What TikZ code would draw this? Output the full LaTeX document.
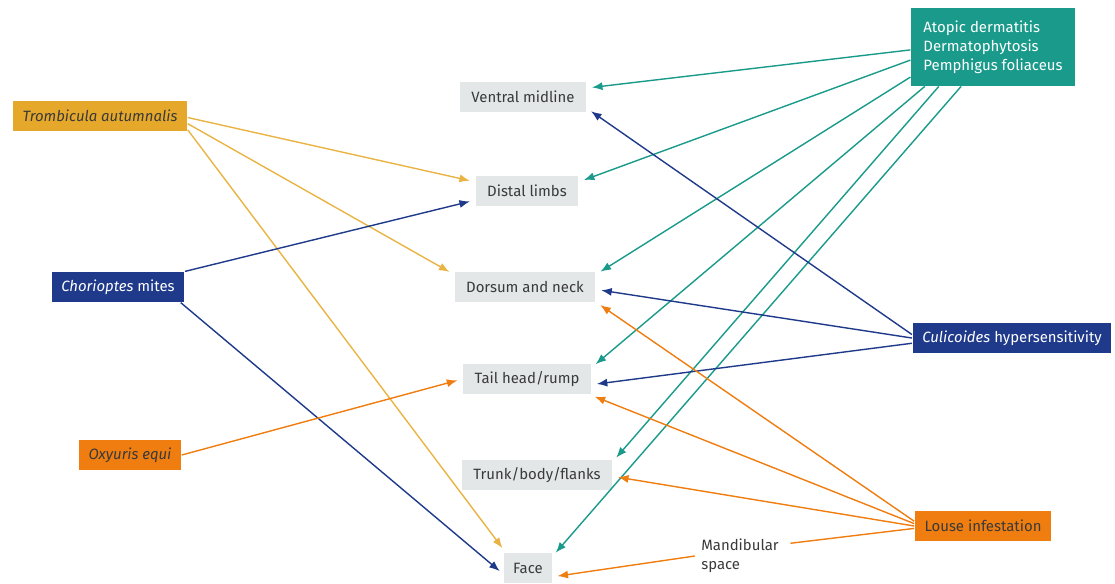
\documentclass[tikz,border=0pt]{standalone}
\usepackage{fontspec}
\setmainfont{Fira Sans}
\usetikzlibrary{arrows.meta}

\definecolor{goldc}{HTML}{E6A82A}
\definecolor{goldl}{HTML}{E9B444}
\definecolor{bluec}{HTML}{1F3A8A}
\definecolor{tealc}{HTML}{1A9A8A}
\definecolor{orangec}{HTML}{EF7D10}
\definecolor{siteb}{HTML}{E3E7E7}
\definecolor{darktext}{HTML}{3A3A3A}

\tikzset{
  site/.style={fill=siteb, text=darktext, minimum height=17pt, inner xsep=6.5pt},
  cause/.style={minimum height=17pt, inner xsep=5.5pt},
}

\begin{document}
\begin{tikzpicture}[x=0.02cm, y=-0.02cm, >={Latex[length=6pt,width=4.6pt]},
  line width=0.8pt, font=\fontsize{8.5}{10.8}\selectfont]
\useasboundingbox (0,0) rectangle (1115,583);

% ----- Body sites -----
\node[site] (ventral) at (523,97)  {Ventral midline};
\node[site] (distal)  at (527,191) {Distal limbs};
\node[site] (dorsum)  at (525,287) {Dorsum and neck};
\node[site] (tail)    at (527,379) {Tail head/rump};
\node[site] (trunk)   at (537,475) {Trunk/body/flanks};
\node[site, inner xsep=5pt] (face) at (528,568) {Face};
\node[text=darktext, align=left] (mand) at (740,556) {Mandibular\\space};

% ----- Causes, left -----
\node[cause, fill=goldc, text=darktext] (tromb) at (100,116) {\itshape Trombicula autumnalis};
\node[cause, fill=bluec, text=white]    (chor)  at (118,287) {\textit{Chorioptes} mites};
\node[cause, fill=orangec, text=darktext] (oxy) at (130,455) {\itshape Oxyuris equi};

% ----- Causes, right -----
\node[cause, fill=tealc, text=white, align=left, inner sep=7pt,
  minimum width=163*0.02cm, minimum height=77*0.02cm] (atopic) at (993,47)
  {Atopic dermatitis\\Dermatophytosis\\Pemphigus foliaceus};
\node[cause, fill=bluec, text=white] (culi) at (1012,338) {\textit{Culicoides} hypersensitivity};
\node[cause, fill=orangec, text=darktext] (louse) at (983,526) {Louse infestation};

% ----- Trombicula -----
\begin{scope}[goldl, shorten >=3pt]
\draw[->] (tromb.-1) -- (distal.170);
\draw[->] (tromb.-5) -- (dorsum.170);
\draw[->] (tromb.-9) -- (face.145);
\end{scope}

% ----- Chorioptes -----
\begin{scope}[bluec, shorten >=3pt]
\draw[->] (chor.north east) -- (distal.190);
\draw[->] (chor.-14) -- (face.195);
\end{scope}

% ----- Oxyuris -----
\draw[orangec, ->, shorten >=3pt] (oxy.east) -- (tail.west);

% ----- Atopic dermatitis etc. -----
\begin{scope}[tealc, shorten >=3pt]
\draw[->] (atopic.182) -- (ventral.8);
\draw[->] (atopic.189) -- (distal.10);
\draw[->] (atopic.200) -- (dorsum.10);
\draw[->] (atopic.210) -- (tail.10);
\draw[->] (atopic.216) -- (trunk.10);
\draw[->] (atopic.231) -- (face.25);
\end{scope}

% ----- Culicoides -----
\begin{scope}[bluec, shorten >=3pt]
\draw[->] (culi.178) -- (ventral.-10);
\draw[->] (culi.180) -- (dorsum.-2);
\draw[->] (culi.183) -- (tail.-5);
\end{scope}

% ----- Louse -----
\begin{scope}[orangec, shorten >=3pt]
\draw[->] (louse.176) -- (dorsum.-12);
\draw[->] (louse.178) -- (tail.-14);
\draw[->] (louse.180) -- (trunk.-1);
\draw (louse.182) -- (mand.15);
\draw[->] (mand.west) -- (face.-20);
\end{scope}
\end{tikzpicture}
\end{document}
